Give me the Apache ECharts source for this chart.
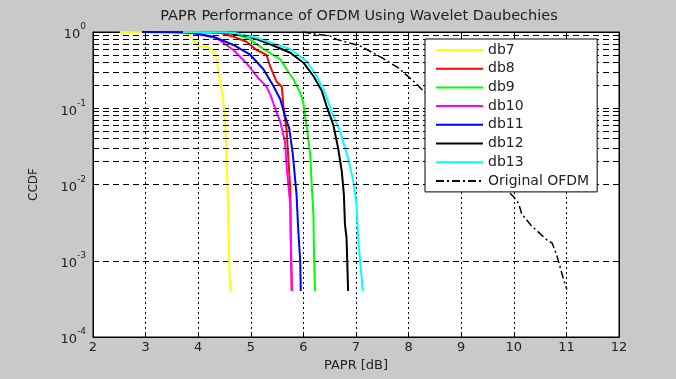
<!DOCTYPE html>
<html>
<head>
<meta charset="utf-8">
<script src="https://cdn.jsdelivr.net/npm/echarts@6/dist/echarts.min.js"></script>
<style>
html,body{margin:0;padding:0;background:#c9c9c9;}
#c{width:676px;height:379px;}
</style>
</head>
<body>
<div id="c"></div>
<script>
// ---- data (PAPR [dB], CCDF) ----
const xTicks = [2,3,4,5,6,7,8,9,10,11,12];
const yDecades = [1e-4,1e-3,1e-2,1e-1,1];
const seriesNames = ['db7','db8','db9','db10','db11','db12','db13','Original OFDM'];
const seriesColors = ['#ffff00','#ff0000','#00ff00','#ff00ff','#0000ff','#000000','#00ffff','#000000'];

const db7 = [[2.51,1],[3.71,0.995],[3.75,0.97],[3.88,0.84],[3.98,0.67],[4.16,0.64],[4.26,0.59],[4.34,0.46],[4.38,0.324],[4.43,0.206],[4.48,0.118],[4.50,0.09],[4.53,0.035],[4.55,0.012],[4.57,0.005],[4.58,0.002],[4.59,0.0009],[4.61,0.0004]];
const db8 = [[3.3,1],[4.2,0.995],[4.45,0.96],[4.67,0.868],[4.92,0.746],[5.11,0.581],[5.30,0.50],[5.37,0.351],[5.49,0.223],[5.59,0.192],[5.62,0.105],[5.68,0.052],[5.71,0.0244],[5.75,0.0089],[5.76,0.002],[5.78,0.0004]];
const db9 = [[3.5,1],[4.3,0.99],[4.67,0.96],[4.98,0.80],[5.30,0.564],[5.56,0.439],[5.68,0.325],[5.81,0.24],[5.94,0.16],[6.00,0.118],[6.03,0.079],[6.06,0.060],[6.13,0.0244],[6.16,0.0094],[6.19,0.004],[6.20,0.0015],[6.22,0.0004]];
const db10 = [[2.95,1],[3.6,0.995],[3.97,0.96],[4.35,0.827],[4.67,0.581],[4.92,0.389],[5.14,0.25],[5.30,0.192],[5.38,0.145],[5.49,0.088],[5.56,0.0667],[5.65,0.036],[5.69,0.0148],[5.75,0.0054],[5.76,0.002],[5.78,0.0004]];
const db11 = [[2.93,1],[3.78,0.995],[4.29,0.868],[4.67,0.676],[4.98,0.51],[5.24,0.325],[5.43,0.196],[5.56,0.131],[5.65,0.079],[5.73,0.0547],[5.80,0.0244],[5.87,0.0073],[5.90,0.00267],[5.94,0.00098],[5.95,0.0004]];
const db12 = [[3.7,1],[4.3,0.99],[4.60,0.96],[4.98,0.873],[5.37,0.69],[5.75,0.535],[6.00,0.396],[6.19,0.265],[6.35,0.169],[6.44,0.107],[6.51,0.079],[6.57,0.060],[6.66,0.030],[6.73,0.0148],[6.77,0.0073],[6.79,0.003],[6.82,0.002],[6.85,0.0004]];
const db13 = [[3.71,1],[4.4,0.995],[4.70,0.97],[5.11,0.842],[5.75,0.593],[6.06,0.417],[6.25,0.265],[6.41,0.16],[6.54,0.0875],[6.70,0.0493],[6.85,0.0221],[6.95,0.0109],[7.01,0.0054],[7.04,0.002],[7.13,0.0004]];
const original = [[5.99,1],[6.25,0.933],[6.51,0.886],[6.63,0.80],[7.08,0.656],[7.49,0.46],[7.80,0.34],[8.09,0.228],[8.28,0.169],[8.69,0.095],[9.17,0.0384],[9.55,0.0165],[9.68,0.0122],[9.80,0.0094],[9.98,0.0071],[10.09,0.0057],[10.15,0.0041],[10.33,0.0029],[10.63,0.00188],[10.73,0.0017],[10.82,0.00116],[10.94,0.00059],[11.01,0.00042]];
const seriesData = [db7,db8,db9,db10,db11,db12,db13,original];

// minor log grid values (2..9 x each decade)
const minorMultipliers = [2,3,4,5,6,7,8,9];
const minorGrid = [];
[1e-4,1e-3,1e-2,1e-1].forEach(d => minorMultipliers.forEach(m => minorGrid.push(+(m*d).toPrecision(3))));

const FONT = 'DejaVu Sans';
const chart = echarts.init(document.getElementById('c'), null, {renderer:'canvas'});

const series = seriesData.map((d,i) => ({
  name: seriesNames[i],
  type: 'line',
  data: d,
  showSymbol: false,
  symbol: 'none',
  z: 3,
  animation: false,
  lineStyle: i === 7
    ? {color: seriesColors[i], width: 1.5, type: [8,3,2,3]}
    : {color: seriesColors[i], width: 2},
  itemStyle: {color: seriesColors[i]}
}));
series.unshift({
  name: 'minor-grid',
  type: 'line',
  data: [],
  z: 1,
  silent: true,
  animation: false,
  markLine: {
    silent: true,
    animation: false,
    symbol: ['none','none'],
    label: {show: false},
    lineStyle: {color: '#000', width: 1, type: [6,4]},
    data: minorGrid.map(v => ({yAxis: v}))
  }
});

const supRich = {
  b: {fontSize: 13, fontFamily: FONT, color: '#222', lineHeight: 19, verticalAlign: 'bottom'},
  s: {fontSize: 9, fontFamily: FONT, color: '#222', lineHeight: 19, verticalAlign: 'top'}
};

chart.setOption({
  backgroundColor: '#c9c9c9',
  animation: false,
  title: {
    text: 'PAPR Performance of OFDM Using Wavelet Daubechies',
    left: 354, top: 4, textAlign: 'center',
    textStyle: {fontFamily: FONT, fontSize: 14.5, fontWeight: 'normal', color: '#222'}
  },
  legend: {
    data: seriesNames,
    orient: 'vertical',
    left: 425, top: 39,
    itemWidth: 47, itemHeight: 12, itemGap: 4.7,
    padding: [4, 8, 4, 10],
    backgroundColor: '#fff',
    borderColor: '#000', borderWidth: 1, borderRadius: 0,
    itemStyle: {opacity: 0},
    textStyle: {fontFamily: FONT, fontSize: 14, color: '#222'},
    z: 10
  },
  grid: {
    left: 93, right: 57, top: 32, bottom: 42,
    show: true, backgroundColor: '#fff', borderColor: '#000', borderWidth: 1
  },
  xAxis: [{
    type: 'value', min: 2, max: 12, interval: 1,
    name: 'PAPR [dB]', nameLocation: 'middle', nameGap: 21,
    nameTextStyle: {fontFamily: FONT, fontSize: 13, color: '#222'},
    axisLine: {show: true, lineStyle: {color: '#000'}},
    axisTick: {show: true, inside: true, length: 5, lineStyle: {color: '#000'}},
    axisLabel: {fontFamily: FONT, fontSize: 13, color: '#222', margin: 4},
    splitLine: {show: true, lineStyle: {color: '#000', type: [2,3], width: 1}}
  },{
    type: 'value', min: 2, max: 12, interval: 1, position: 'top',
    axisLine: {show: true, lineStyle: {color: '#000'}},
    axisTick: {show: true, inside: true, length: 5, lineStyle: {color: '#000'}},
    axisLabel: {show: false}, splitLine: {show: false}
  }],
  yAxis: [{
    type: 'log', logBase: 10, min: 1e-4, max: 1,
    name: 'CCDF', nameLocation: 'middle', nameGap: 53,
    nameTextStyle: {fontFamily: FONT, fontSize: 12, color: '#222'},
    axisLine: {show: true, lineStyle: {color: '#000'}},
    axisTick: {show: true, inside: true, length: 5, lineStyle: {color: '#000'}},
    axisLabel: {
      margin: 7,
      formatter: v => '{b|10}{s|' + Math.round(Math.log10(v)) + '}',
      rich: supRich
    },
    splitLine: {show: true, lineStyle: {color: '#000', type: [6,4], width: 1}}
  },{
    type: 'log', logBase: 10, min: 1e-4, max: 1, position: 'right',
    axisLine: {show: true, lineStyle: {color: '#000'}},
    axisTick: {show: true, inside: true, length: 5, lineStyle: {color: '#000'}},
    axisLabel: {show: false}, splitLine: {show: false}
  }],
  series: series
});
</script>
</body>
</html>
